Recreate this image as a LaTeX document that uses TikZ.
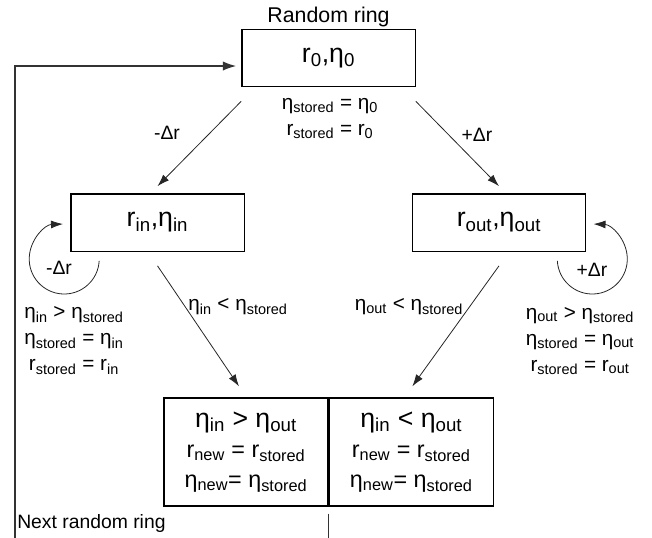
\documentclass[tikz,border=0pt]{standalone}
\usepackage{fontspec}
\setmainfont{Liberation Sans}
\usetikzlibrary{arrows.meta,positioning,calc}
\newcommand\lo[1]{\textsubscript{#1}}
\tikzset{
  ringbox/.style={draw=black, line width=1pt, minimum width=130pt, minimum height=43pt, inner sep=0pt, font=\fontsize{20}{24}\selectfont},
  resbox/.style={draw=black, line width=1pt, minimum width=123pt, minimum height=81pt, inner sep=0pt, align=center, font=\fontsize{17.5}{22.5}\selectfont},
  note/.style={inner sep=0pt, align=center, font=\fontsize{15.5}{19.5}\selectfont},
  dlbl/.style={inner sep=0pt, font=\fontsize{14.5}{17}\selectfont},
  arr/.style={-{Latex[length=9pt,width=6pt]}, line width=0.6pt, black!85},
  backarr/.style={-{Latex[length=10pt,width=7pt]}, line width=1pt, black!80}
}

\begin{document}
\begin{tikzpicture}[x=0.75pt, y=-0.75pt]
\useasboundingbox (0,0) rectangle (652,537);
% start ring
\node[ringbox] (r0) at (328.5,58) {r\lo{0},η\lo{0}};
\node[dlbl, font=\fontsize{16}{19}\selectfont, above=1pt of r0] (title) {Random ring};
\node[note] (st0) at (330,118.5) {η\lo{stored} = η\lo{0}\\r\lo{stored} = r\lo{0}};
% trial rings
\node[ringbox] (rin) at (157.5,222.5) {r\lo{in},η\lo{in}};
\node[ringbox] (rout) at (499,222.5) {r\lo{out},η\lo{out}};
\node[dlbl] (mdr) at (167,133) {-Δr};
\node[dlbl] (pdr) at (477,135) {+Δr};
\node[dlbl] (mloop) at (59,268) {-Δr};
\node[dlbl] (ploop) at (592,270) {+Δr};
\node[note] (stin) at (74,340.5) {η\lo{in} > η\lo{stored}\\η\lo{stored} = η\lo{in}\\r\lo{stored} = r\lo{in}};
\node[note] (stout) at (580,341) {η\lo{out} > η\lo{stored}\\η\lo{stored} = η\lo{out}\\r\lo{stored} = r\lo{out}};
\node[note] (cin) at (238,307) {η\lo{in} < η\lo{stored}};
\node[note] (cout) at (409,307) {η\lo{out} < η\lo{stored}};
% result
\node[resbox] (resl) at (246,452) {{\fontsize{20}{24}\selectfont η\lo{in} > η\lo{out}}\\r\lo{new} = r\lo{stored}\\η\lo{new}= η\lo{stored}};
\node[resbox, right=0pt of resl] (resr) {{\fontsize{20}{24}\selectfont η\lo{in} < η\lo{out}}\\r\lo{new} = r\lo{stored}\\η\lo{new}= η\lo{stored}};
\node[dlbl, anchor=west] (nxt) at (17,523) {Next random ring};
% arrows
\draw[arr] ($(r0.south west)+(0,14)$) -- ($(rin.north)+(0,-7)$);
\draw[arr] ($(r0.south east)+(0,14)$) -- ($(rout.north)+(0,-7)$);
\draw[arr] ($(rin.south)+(0,14)$) -- ($(resl.north)+(-7,-11)$);
\draw[arr] ($(rout.south)+(0,14)$) -- ($(resr.north)+(1,-11)$);
\draw[arr] ($(rin.south west)+(29,9)$) arc[start angle=3, end angle=268, radius=35];
\draw[arr] ($(rout.south east)+(-29,9)$) arc[start angle=177, end angle=-88, radius=35];
\coordinate (corner) at (15,545);
\draw[backarr] ($(resl.south east)+(0,7)$) |- (corner) |- ($(r0.west)+(-5,8)$);
\end{tikzpicture}
\end{document}
